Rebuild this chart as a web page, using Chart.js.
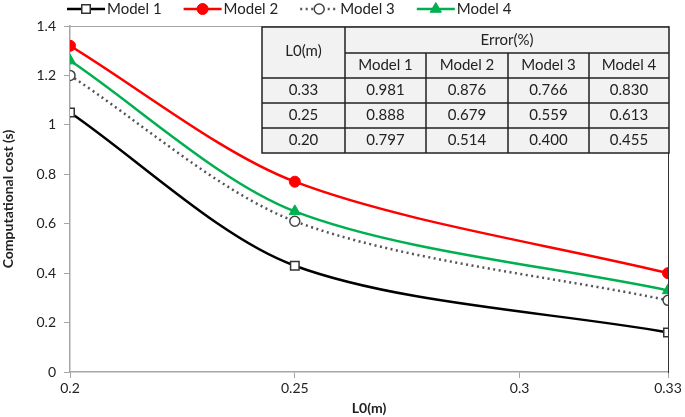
<!DOCTYPE html>
<html>
<head>
<meta charset="utf-8">
<script src="https://cdn.jsdelivr.net/npm/chart.js@4"></script>
<style>
  html, body { margin: 0; padding: 0; background: #fff; }
  #wrap { width: 685px; height: 417px; position: relative; }
</style>
</head>
<body>
<div id="wrap"><canvas id="chart"></canvas></div>
<script>
const lengths = [0.2, 0.25, 0.333]
const xTicks = [0.2, 0.25, 0.3, 0.333]
const model1 = [1.05, 0.43, 0.16]
const model2 = [1.32, 0.77, 0.40]
const model3 = [1.20, 0.61, 0.29]
const model4 = [1.26, 0.65, 0.33]

// error table
const tableRowLabels = ['0.33', '0.25', '0.20']
const tableHeaders = ['Model 1', 'Model 2', 'Model 3', 'Model 4']
const errModel1 = ['0.981', '0.888', '0.797']
const errModel2 = ['0.876', '0.679', '0.514']
const errModel3 = ['0.766', '0.559', '0.400']
const errModel4 = ['0.830', '0.613', '0.455']

const FONT = 'Lato, "Open Sans", sans-serif'

const toPoints = (vals) => vals.map((v, i) => ({ x: lengths[i], y: v }))

const frameAndTable = {
  id: 'frameAndTable',
  afterDatasetsDraw(chart) {
    const ctx = chart.ctx
    const a = chart.chartArea
    ctx.save()
    // top border (grey) and right border (dark)
    ctx.strokeStyle = '#a6a6a6'
    ctx.lineWidth = 1
    ctx.beginPath()
    ctx.moveTo(a.left, a.top + 0.5)
    ctx.lineTo(a.right, a.top + 0.5)
    ctx.stroke()
    ctx.strokeStyle = '#333'
    ctx.beginPath()
    ctx.moveTo(a.right + 0.5, a.top)
    ctx.lineTo(a.right + 0.5, a.bottom + 1)
    ctx.stroke()

    // table
    const colW = [83, 81, 82, 81, 80]
    const rowH = [26, 25, 25, 25, 25]
    const totalW = colW.reduce((s, v) => s + v, 0)
    const totalH = rowH.reduce((s, v) => s + v, 0)
    const x0 = a.right - totalW + 1
    const y0 = a.top + 1
    const colX = [x0]
    colW.forEach(w => colX.push(colX[colX.length - 1] + w))
    const rowY = [y0]
    rowH.forEach(h => rowY.push(rowY[rowY.length - 1] + h))

    ctx.fillStyle = '#f2f2f2'
    ctx.fillRect(x0, y0, totalW, totalH)
    ctx.strokeStyle = '#222'
    ctx.lineWidth = 1.5
    ctx.strokeRect(x0, y0, totalW, totalH)
    ctx.beginPath()
    ctx.moveTo(colX[1], rowY[0]); ctx.lineTo(colX[1], rowY[5])
    for (let c = 2; c < 5; c++) { ctx.moveTo(colX[c], rowY[1]); ctx.lineTo(colX[c], rowY[5]) }
    ctx.moveTo(colX[1], rowY[1]); ctx.lineTo(colX[5], rowY[1])
    for (let r = 2; r < 5; r++) { ctx.moveTo(colX[0], rowY[r]); ctx.lineTo(colX[5], rowY[r]) }
    ctx.stroke()

    ctx.fillStyle = '#222'
    ctx.font = '15px ' + FONT
    ctx.textAlign = 'center'
    ctx.textBaseline = 'middle'
    const cx = (c) => (colX[c] + colX[c + 1]) / 2
    const cy = (r) => (rowY[r] + rowY[r + 1]) / 2
    ctx.fillText('L0(m)', cx(0), rowY[1] - 2)
    ctx.fillText('Error(%)', (colX[1] + colX[5]) / 2, cy(0))
    tableHeaders.forEach((h, i) => ctx.fillText(h, cx(i + 1), cy(1)))
    const cols = [errModel1, errModel2, errModel3, errModel4]
    tableRowLabels.forEach((lab, r) => {
      ctx.fillText(lab, cx(0), cy(r + 2))
      cols.forEach((col, c) => ctx.fillText(col[r], cx(c + 1), cy(r + 2)))
    })
    ctx.restore()
  }
}

const lineLegend = {
  id: 'lineLegend',
  afterDraw(chart) {
    const ctx = chart.ctx
    ctx.save()
    ctx.font = '15px ' + FONT
    ctx.textBaseline = 'middle'
    ctx.textAlign = 'left'
    let x = 67
    const y = 9
    chart.data.datasets.forEach(ds => {
      const lw = 38
      ctx.strokeStyle = ds.borderColor
      ctx.lineWidth = ds.borderWidth
      ctx.setLineDash(ds.borderDash || [])
      ctx.beginPath()
      ctx.moveTo(x, y)
      ctx.lineTo(x + lw, y)
      ctx.stroke()
      ctx.setLineDash([])
      ctx.fillStyle = ds.pointBackgroundColor
      ctx.strokeStyle = ds.pointBorderColor
      ctx.lineWidth = ds.pointBorderWidth
      Chart.helpers.drawPoint(ctx, {
        pointStyle: ds.pointStyle,
        rotation: 0,
        radius: ds.pointRadius,
        borderWidth: ds.pointBorderWidth
      }, x + lw / 2, y)
      ctx.fillStyle = '#222'
      ctx.fillText(ds.label, x + lw + 2, y)
      x += lw + 2 + ctx.measureText(ds.label).width + 22
    })
    ctx.restore()
  }
}

new Chart(document.getElementById('chart'), {
  type: 'line',
  data: {
    datasets: [
      {
        label: 'Model 1',
        data: toPoints(model1),
        borderColor: '#000',
        borderWidth: 2.5,
        pointStyle: 'rect',
        pointRadius: 6,
        pointBackgroundColor: '#fff',
        pointBorderColor: '#333',
        pointBorderWidth: 1.5,
        tension: 0.3
      },
      {
        label: 'Model 2',
        data: toPoints(model2),
        borderColor: '#ff0000',
        borderWidth: 2.5,
        pointStyle: 'circle',
        pointRadius: 5.5,
        pointBackgroundColor: '#ff0000',
        pointBorderColor: '#ff0000',
        pointBorderWidth: 1,
        tension: 0.3
      },
      {
        label: 'Model 3',
        data: toPoints(model3),
        borderColor: '#555',
        borderWidth: 2.5,
        borderDash: [2, 3.5],
        pointStyle: 'circle',
        pointRadius: 5,
        pointBackgroundColor: '#fff',
        pointBorderColor: '#444',
        pointBorderWidth: 1.5,
        tension: 0.3
      },
      {
        label: 'Model 4',
        data: toPoints(model4),
        borderColor: '#00b050',
        borderWidth: 2.5,
        pointStyle: 'triangle',
        pointRadius: 6.5,
        pointBackgroundColor: '#00b050',
        pointBorderColor: '#00b050',
        pointBorderWidth: 1,
        tension: 0.3
      }
    ]
  },
  options: {
    responsive: true,
    maintainAspectRatio: false,
    animation: false,
    layout: { padding: { top: 26, right: 17, left: 0, bottom: 0 } },
    plugins: {
      legend: { display: false },
      tooltip: { enabled: false }
    },
    scales: {
      x: {
        type: 'linear',
        min: 0.2,
        max: 0.333,
        afterBuildTicks: (axis) => { axis.ticks = xTicks.map(v => ({ value: v })) },
        afterFit: (axis) => { axis.height = 45 },
        grid: { drawOnChartArea: false, color: '#a6a6a6', tickLength: 6 },
        border: { color: '#a6a6a6', width: 1.5 },
        ticks: {
          font: { family: FONT, size: 14 },
          color: '#222',
          padding: 2,
          maxRotation: 0,
          callback: (v) => String(Math.round(v * 100) / 100)
        },
        title: {
          display: true,
          text: 'L0(m)',
          font: { family: FONT, size: 14, weight: 'bold' },
          color: '#222',
          padding: { top: 0, bottom: 0 }
        }
      },
      y: {
        min: 0,
        max: 1.4,
        afterFit: (axis) => { axis.width = 70 },
        grid: { drawOnChartArea: false, color: '#a6a6a6', tickLength: 6 },
        border: { color: '#a6a6a6', width: 1.5 },
        ticks: {
          stepSize: 0.2,
          font: { family: FONT, size: 14 },
          color: '#222',
          padding: 8,
          callback: (v) => String(Math.round(v * 10) / 10)
        },
        title: {
          display: true,
          text: 'Computational cost (s)',
          font: { family: FONT, size: 14, weight: 'bold' },
          color: '#222',
          padding: { top: 0, bottom: 4 }
        }
      }
    }
  },
  plugins: [frameAndTable, lineLegend]
})
</script>
</body>
</html>
